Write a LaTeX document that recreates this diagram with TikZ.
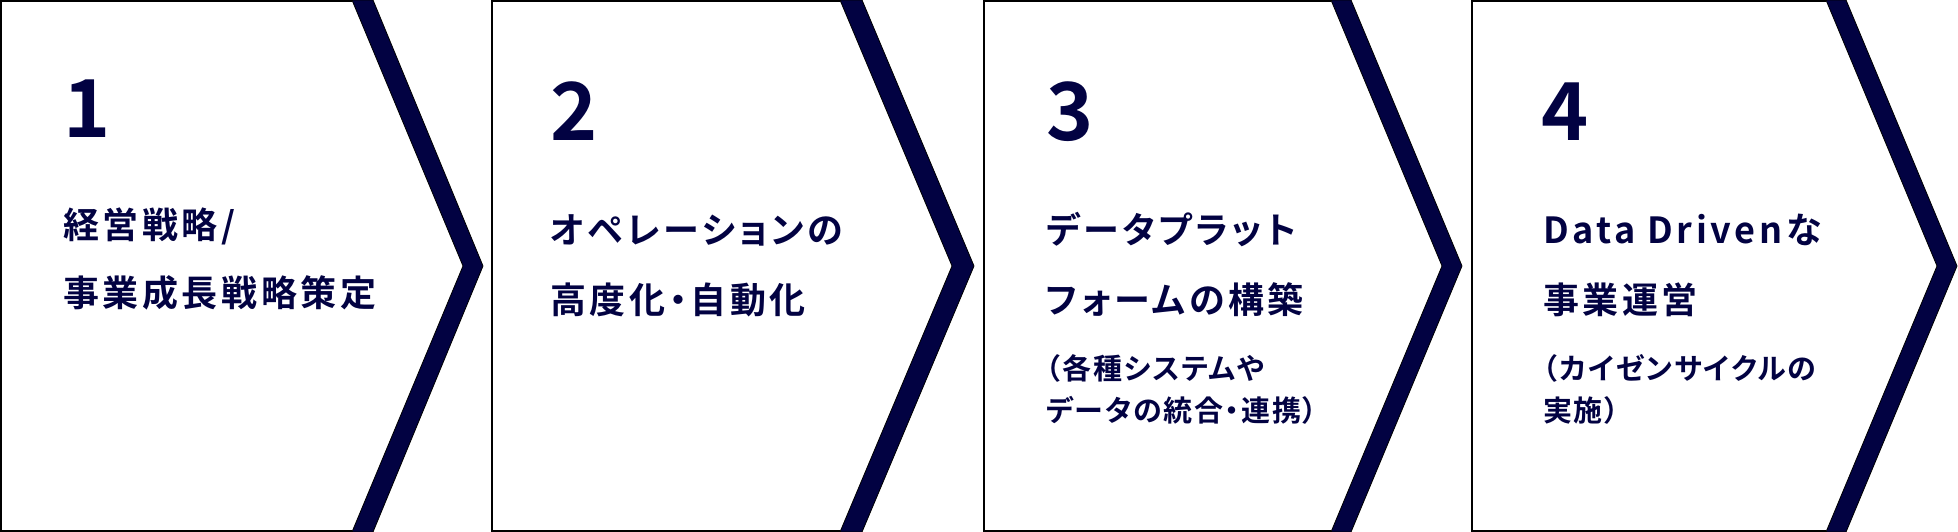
\documentclass[tikz,border=0pt]{standalone}
\usepackage{fontspec}
\newfontfamily\jpnum{Noto Sans CJK JP Bold}
\newfontfamily\jphead{Noto Sans CJK JP Bold}[LetterSpace=10,RawFeature={+palt}]
\newfontfamily\jpnote{Noto Sans CJK JP Bold}[LetterSpace=6,RawFeature={+palt}]
\definecolor{navy}{RGB}{2,2,66}

\begin{document}
\begin{tikzpicture}[x=1pt,y=-1pt,
	outline/.style={draw=black,line width=2pt},
	band/.style={fill=navy,draw=black,line width=0.8pt},
	num/.style={anchor=base west,inner sep=0pt,text=navy,font=\jpnum\fontsize{80}{80}\selectfont},
	head/.style={anchor=base west,inner sep=0pt,text=navy,font=\jphead\fontsize{36}{36}\selectfont},
	note/.style={anchor=base west,inner sep=0pt,text=navy,font=\jpnote\fontsize{29}{29}\selectfont}]
	\useasboundingbox (0,0) rectangle (1958,532);
	
	%BOXES (left, top, bottom edges)
	\draw[outline] (352,1)--(1,1)--(1,531)--(352,531);			%box 1
	\draw[outline] (840,1)--(492,1)--(492,531)--(840,531);		%box 2
	\draw[outline] (1331,1)--(984,1)--(984,531)--(1331,531);		%box 3
	\draw[outline] (1826,1)--(1472,1)--(1472,531)--(1826,531);	%box 4
	
	%CHEVRON BANDS
	\draw[band] (352,0)--(373,0)--(483,266)--(373,532)--(352,532)--(463,266)--cycle;
	\draw[band] (840,0)--(862,0)--(974,266)--(862,532)--(840,532)--(952,266)--cycle;
	\draw[band] (1331,0)--(1351,0)--(1462,266)--(1351,532)--(1331,532)--(1442,266)--cycle;
	\draw[band] (1826,0)--(1846,0)--(1957,266)--(1846,532)--(1826,532)--(1937,266)--cycle;
	
	%NUMBERS
	\node[num] (num1) at (63,137) {1};
	\node[num] (num2) at (550,140) {2};
	\node[num] (num3) at (1046,140) {3};
	\node[num] (num4) at (1541,140) {4};
	
	%HEADINGS
	\node[head] (head1a) at (63,238) {経営戦略/};
	\node[head] (head1b) at (63,306) {事業成長戦略策定};
	%
	\node[head] (head2a) at (550,243) {オペレーションの};
	\node[head] (head2b) at (550,313) {高度化・自動化};
	%
	\node[head] (head3a) at (1046,243) {データプラット};
	\node[head] (head3b) at (1046,313) {フォームの構築};
	%
	\node[head] (head4a) at (1543,243) {Data Drivenな};
	\node[head] (head4b) at (1543,313) {事業運営};
	
	%NOTES
	\node[note] (note3a) at (1046,379) {（各種システムや};
	\node[note] (note3b) at (1046,421) {データの統合・連携）};
	%
	\node[note] (note4a) at (1543,379) {（カイゼンサイクルの};
	\node[note] (note4b) at (1543,421) {実施）};
\end{tikzpicture}
\end{document}
